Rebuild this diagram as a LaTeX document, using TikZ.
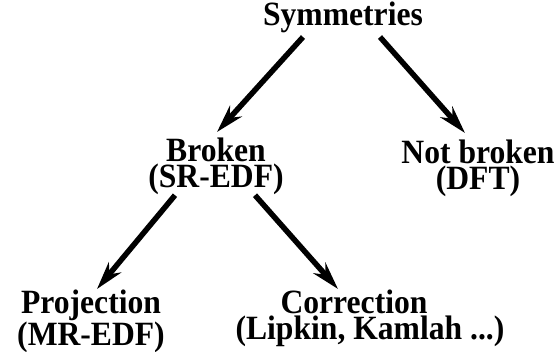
\documentclass[tikz,border=0pt]{standalone}
\usepackage{fontspec}
\setmainfont{Liberation Serif}[FakeStretch=0.93]
\usetikzlibrary{arrows.meta}

\tikzset{
  lbl/.style={font=\fontsize{34}{26}\selectfont\bfseries, align=center, inner sep=0pt},
  arr/.style={line width=5.5pt, -{Stealth[length=28pt, width=16pt, inset=9pt]}}
}

\begin{document}
\begin{tikzpicture}[x=1pt, y=-1pt]
    \useasboundingbox (0,0) rectangle (560,352);
    \node[lbl, anchor=base]  (sym) at (343,26)  {Symmetries};
    \node[lbl, anchor=north] (brk) at (216,138) {Broken\\(SR-EDF)};
    \node[lbl, anchor=north] (nbr) at (478,140) {Not broken\\(DFT)};
    \node[lbl, anchor=north] (prj) at (91,290)  {Projection\\(MR-EDF)};
    \node[lbl, anchor=north] (cor) at (370,290) {Correction\kern32pt\\(Lipkin, Kamlah ...)};
    % arrows
    \draw[arr] ([xshift=-40pt, yshift=-3.5pt]sym.south) -- ([xshift=1pt, yshift=6pt]brk.north);
    \draw[arr] ([xshift=37pt, yshift=-3.5pt]sym.south) -- ([xshift=-13pt, yshift=7pt]nbr.north);
    \draw[arr] ([xshift=-41pt]brk.south) -- ([xshift=6pt, yshift=1pt]prj.north);
    \draw[arr] ([xshift=39pt]brk.south) -- ([xshift=-32pt, yshift=1pt]cor.north);
\end{tikzpicture}
\end{document}
